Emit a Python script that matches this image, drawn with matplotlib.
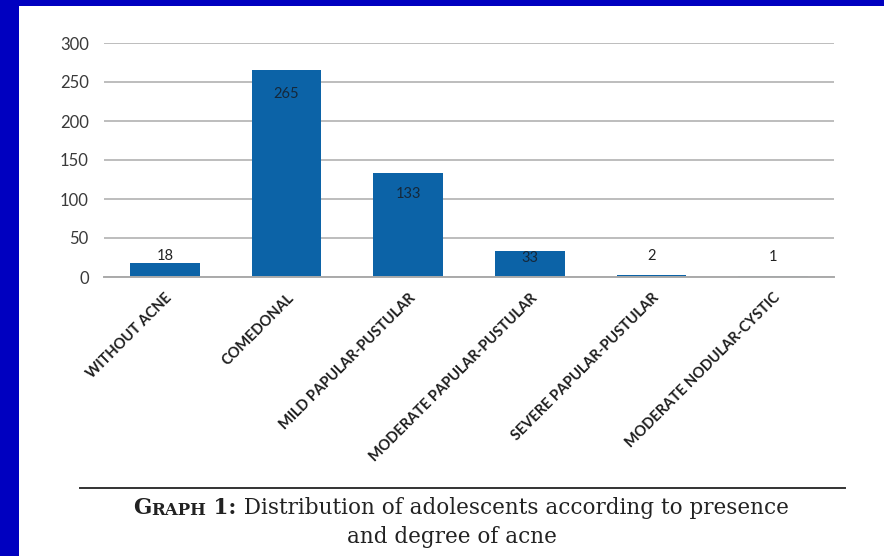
import matplotlib.pyplot as plt
from matplotlib.patches import Rectangle

categories = ['WITHOUT ACNE', 'COMEDONAL', 'MILD PAPULAR-PUSTULAR',
              'MODERATE PAPULAR-PUSTULAR', 'SEVERE PAPULAR-PUSTULAR',
              'MODERATE NODULAR-CYSTIC']
counts = [18, 265, 133, 33, 2, 1]
y_ticks = [0, 50, 100, 150, 200, 250, 300]

# label placement: 'in' sits under the bar top, 'out' above it (offsets in points)
label_where = ['out', 'in', 'in', 'in', 'out', 'out']
label_offset = [0, -17, -15, -5, 9, 9]

bar_color = '#0C63A7'
frame_blue = '#0000C0'

fig = plt.figure(figsize=(8.84, 5.56), dpi=100)
fig.patch.set_facecolor('white')

# blue page frame on the left and top edges
fig.add_artist(Rectangle((0, 0), 19 / 884, 1, transform=fig.transFigure,
                         color=frame_blue, lw=0, zorder=0))
fig.add_artist(Rectangle((0, 1 - 6 / 556), 1, 6 / 556, transform=fig.transFigure,
                         color=frame_blue, lw=0, zorder=0))

ax = fig.add_axes([104 / 884, 1 - 277 / 556, 730 / 884, 234 / 556])
x = range(len(categories))
ax.bar(x, counts, width=0.57, color=bar_color, zorder=2)

ax.set_xlim(-0.5, len(categories) - 0.5)
ax.set_ylim(0, 300)
ax.set_yticks(y_ticks)
ax.set_yticklabels([str(v) for v in y_ticks], fontsize=12, color='#3A3A3A',
                   family='Lato')
ax.yaxis.grid(True, color='#BDBDBD', lw=1.4)
ax.set_axisbelow(True)
for side in ['left', 'right', 'top']:
    ax.spines[side].set_visible(False)
ax.spines['bottom'].set_color('#AAAAAA')
ax.spines['bottom'].set_linewidth(1.4)
ax.tick_params(axis='y', length=0, pad=11)
ax.tick_params(axis='x', length=0, pad=10)

ax.set_xticks(list(x))
ax.set_xticklabels(categories, rotation=45, ha='right', rotation_mode='anchor',
                   fontsize=10.5, fontweight='bold', family='Lato', color='#1E1E1E')

for xi, v, where, off in zip(x, counts, label_where, label_offset):
    if where == 'in':
        ax.annotate(str(v), (xi, v), xytext=(0, off), textcoords='offset points',
                    ha='center', va='center', fontsize=10.5, color='#15283A',
                    family='Lato')
    else:
        ax.annotate(str(v), (xi, v), xytext=(0, off), textcoords='offset points',
                    ha='center', va='bottom', fontsize=10.5, color='#222222',
                    family='Lato')

# caption rule and text
fig.add_artist(plt.Line2D([80 / 884, 845 / 884], [1 - 488 / 556] * 2,
                          transform=fig.transFigure, color='#333333', lw=1.4))

serif = 'DejaVu Serif'
ink = '#222222'
t1 = fig.text(133 / 884, 1 - 514 / 556, 'G', fontsize=15.5, fontweight='bold',
              family=serif, color=ink, va='baseline')
t2 = ax.annotate('RAPH', xy=(1, 0), xycoords=t1, fontsize=12,
                 fontweight='bold', family=serif, color=ink,
                 va='bottom', annotation_clip=False)
t3 = ax.annotate(' 1:', xy=(1, 0), xycoords=t2, fontsize=15.5,
                 fontweight='bold', family=serif, color=ink,
                 va='bottom', annotation_clip=False)
ax.annotate(' Distribution of adolescents according to presence', xy=(1, 0),
            xycoords=t3, fontsize=15.5, family=serif, color=ink,
            va='bottom', annotation_clip=False)
fig.text(452 / 884, 1 - 543 / 556, 'and degree of acne', fontsize=15.5,
         family=serif, color=ink, ha='center', va='baseline')

fig.savefig('out.png', dpi=100)
